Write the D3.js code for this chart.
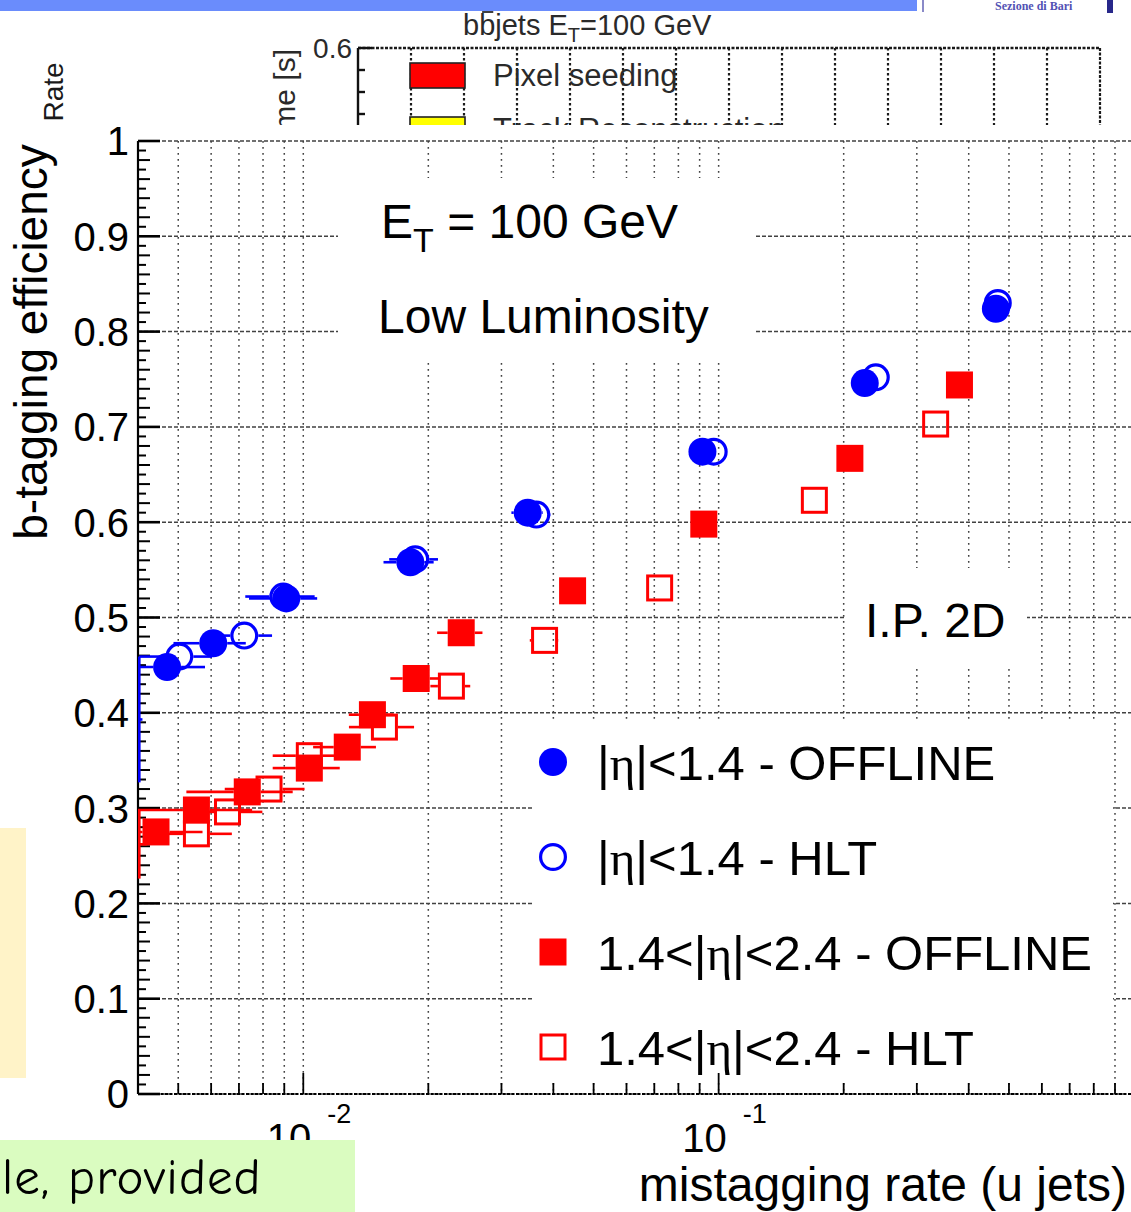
<!DOCTYPE html>
<html>
<head>
<meta charset="utf-8">
<script src="https://cdn.jsdelivr.net/npm/d3@7"></script>
<style>
  html, body { margin: 0; padding: 0; background: #fff; overflow: hidden; }
  svg { display: block; }
</style>
</head>
<body>
<svg id="chart" width="1131" height="1212"></svg>
<script>
// b-tagging efficiency versus u-jet mistagging rate (E_T = 100 GeV, low luminosity, I.P. 2D)

// ---- data -------------------------------------------------------------
const seriesLabels = [
  "|η|<1.4 - OFFLINE",
  "|η|<1.4 - HLT",
  "1.4<|η|<2.4 - OFFLINE",
  "1.4<|η|<2.4 - HLT"
];

// |eta| < 1.4, offline
const barrelOfflineX  = [0.0047, 0.00607, 0.0091, 0.0181, 0.0347, 0.0914, 0.2248, 0.465];
const barrelOfflineY  = [0.448, 0.473, 0.520, 0.558, 0.610, 0.674, 0.746, 0.824];
const barrelOfflineEx = [0.0011, 0.0012, 0.0017, 0.0025, 0.003, 0.004, 0.008, 0.015];
const barrelOfflineEy = [0.008, 0.008, 0.008, 0.007, 0.007, 0.006, 0.006, 0.005];

// |eta| < 1.4, HLT
const barrelHltX  = [0.0035, 0.00503, 0.00721, 0.00895, 0.0186, 0.0364, 0.0973, 0.239, 0.470];
const barrelHltY  = [0.393, 0.459, 0.481, 0.522, 0.561, 0.608, 0.674, 0.752, 0.830];
const barrelHltEx = [0.0006, 0.0010, 0.0012, 0.0017, 0.0025, 0.003, 0.004, 0.008, 0.015];
const barrelHltEy = [0.066, 0.008, 0.008, 0.008, 0.007, 0.007, 0.006, 0.006, 0.005];

// 1.4 < |eta| < 2.4, offline
const endcapOfflineX  = [0.00442, 0.00553, 0.00733, 0.01034, 0.01276, 0.01467, 0.0187, 0.0240, 0.0445, 0.0921, 0.207, 0.380];
const endcapOfflineY  = [0.275, 0.298, 0.317, 0.342, 0.364, 0.398, 0.436, 0.484, 0.528, 0.598, 0.667, 0.744];
const endcapOfflineEx = [0.0013, 0.002, 0.0021, 0.0019, 0.0022, 0.0018, 0.0025, 0.003, 0.003, 0.004, 0.008, 0.012];
const endcapOfflineEy = [0.009, 0.009, 0.009, 0.008, 0.008, 0.008, 0.008, 0.008, 0.007, 0.007, 0.006, 0.006];

// 1.4 < |eta| < 2.4, HLT
const endcapHltX  = [0.0036, 0.00553, 0.00657, 0.00827, 0.01034, 0.01568, 0.02273, 0.0381, 0.0721, 0.170, 0.333];
const endcapHltY  = [0.262, 0.273, 0.296, 0.320, 0.355, 0.385, 0.428, 0.476, 0.531, 0.623, 0.703];
const endcapHltEx = [0.0006, 0.0012, 0.0014, 0.0018, 0.0019, 0.0028, 0.0025, 0.003, 0.004, 0.008, 0.012];
const endcapHltEy = [0.036, 0.009, 0.009, 0.009, 0.008, 0.008, 0.008, 0.008, 0.007, 0.006, 0.006];

// axes
const xDomain = [0.004, 1];
const yDomain = [0, 1];
const yTickValues = [0, 0.1, 0.2, 0.3, 0.4, 0.5, 0.6, 0.7, 0.8, 0.9, 1];
const yTickLabels = ["0", "0.1", "0.2", "0.3", "0.4", "0.5", "0.6", "0.7", "0.8", "0.9", "1"];
const xDecadeValues = [0.01, 0.1];
const xDecadeExponents = ["-2", "-1"];
const xTitle = "mistagging rate (u jets)";
const yTitle = "b-tagging efficiency";

// ---- setup ------------------------------------------------------------
const FONT = "'Liberation Sans', Arial, Helvetica, sans-serif";
const svg = d3.select("#chart");
const plot = { left: 138, right: 1134, top: 141, bottom: 1094 };

const x = d3.scaleLog().domain(xDomain).range([plot.left, plot.right]);
const y = d3.scaleLinear().domain(yDomain).range([plot.bottom, plot.top]);

const zip = (xs, ys, exs, eys) => xs.map((v, i) => ({ x: v, y: ys[i], ex: exs[i], ey: eys[i] }));
const series = [
  { label: seriesLabels[1], color: "#0000ff", shape: "circle", filled: false, pts: zip(barrelHltX, barrelHltY, barrelHltEx, barrelHltEy) },
  { label: seriesLabels[0], color: "#0000ff", shape: "circle", filled: true,  pts: zip(barrelOfflineX, barrelOfflineY, barrelOfflineEx, barrelOfflineEy) },
  { label: seriesLabels[3], color: "#ff0000", shape: "square", filled: false, pts: zip(endcapHltX, endcapHltY, endcapHltEx, endcapHltEy) },
  { label: seriesLabels[2], color: "#ff0000", shape: "square", filled: true,  pts: zip(endcapOfflineX, endcapOfflineY, endcapOfflineEx, endcapOfflineEy) }
];

// ---- slide background (banner and the timing plot underneath) ----------
const back = svg.append("g");
back.append("rect").attr("x", 0).attr("y", 0).attr("width", 917).attr("height", 11).attr("fill", "#6a8cfc");
back.append("rect").attr("x", 922).attr("y", 0).attr("width", 2).attr("height", 12).attr("fill", "#8a8ac8");
back.append("text").attr("x", 995).attr("y", 10).attr("font-family", "'Liberation Serif', serif")
  .attr("font-weight", "bold").attr("font-size", 12).attr("fill", "#5252b4").text("Sezione di Bari");
back.append("rect").attr("x", 1107).attr("y", 0).attr("width", 6).attr("height", 13).attr("fill", "#28288a");

// timing plot frame
const tFrame = { left: 358, right: 1100, top: 48, bottom: 160 };
const tx = d3.scaleLinear().domain([0, 14]).range([tFrame.left, tFrame.right]);
back.selectAll("line.tgrid").data(d3.range(1, 14)).join("line")
  .attr("x1", d => tx(d)).attr("x2", d => tx(d))
  .attr("y1", tFrame.top).attr("y2", tFrame.bottom)
  .attr("stroke", "#1a1a1a").attr("stroke-width", 2.2).attr("stroke-dasharray", "2.5,2.5");
back.append("line").attr("x1", tFrame.left).attr("x2", tFrame.right).attr("y1", tFrame.top).attr("y2", tFrame.top)
  .attr("stroke", "#1a1a1a").attr("stroke-width", 2.4).attr("stroke-dasharray", "3,1.5");
back.append("line").attr("x1", tFrame.right).attr("x2", tFrame.right).attr("y1", tFrame.top).attr("y2", tFrame.bottom)
  .attr("stroke", "#1a1a1a").attr("stroke-width", 2.2).attr("stroke-dasharray", "3,1.5");
back.append("line").attr("x1", tFrame.left).attr("x2", tFrame.left).attr("y1", tFrame.top).attr("y2", tFrame.bottom)
  .attr("stroke", "#111").attr("stroke-width", 2.4);
back.selectAll("line.ttick").data([48, 70, 92, 114]).join("line")
  .attr("x1", tFrame.left).attr("x2", (d, i) => tFrame.left + (i === 0 ? 14 : 7))
  .attr("y1", d => d).attr("y2", d => d)
  .attr("stroke", "#111").attr("stroke-width", 2.4);
back.append("text").attr("x", 352).attr("y", 58).attr("text-anchor", "end")
  .attr("font-family", FONT).attr("font-size", 28).attr("fill", "#2a2a2a").text("0.6");
back.append("text").attr("transform", "translate(295,49) rotate(-90)").attr("text-anchor", "end")
  .attr("font-family", FONT).attr("font-size", 30).attr("fill", "#2a2a2a").text("Time [s]");

// timing plot title with b-bar
const tTitle = back.append("text").attr("x", 463).attr("y", 35)
  .attr("font-family", FONT).attr("font-size", 29).attr("fill", "#2a2a2a");
tTitle.append("tspan").text("bbjets E");
tTitle.append("tspan").attr("font-size", 20).attr("dy", 7).text("T");
tTitle.append("tspan").attr("dy", -7).text("=100 GeV");
{
  const node = tTitle.node();
  const s = node.getStartPositionOfChar(1), e = node.getEndPositionOfChar(1);
  back.append("line").attr("x1", s.x + 3).attr("x2", e.x - 2).attr("y1", 12).attr("y2", 12)
    .attr("stroke", "#2a2a2a").attr("stroke-width", 1.8);
}

// timing plot legend
back.append("rect").attr("x", 410).attr("y", 63).attr("width", 55).attr("height", 25)
  .attr("fill", "#ff0000").attr("stroke", "#222").attr("stroke-width", 1.6);
back.append("text").attr("x", 493).attr("y", 86).attr("font-family", FONT).attr("font-size", 31)
  .attr("fill", "#2a2a2a").text("Pixel seeding");
back.append("rect").attr("x", 410).attr("y", 117).attr("width", 55).attr("height", 25)
  .attr("fill", "#ffff00").attr("stroke", "#222").attr("stroke-width", 1.6);
back.append("text").attr("x", 493).attr("y", 140).attr("font-family", FONT).attr("font-size", 31)
  .attr("fill", "#2a2a2a").text("Track Reconstruction");

back.append("text").attr("transform", "translate(63,92) rotate(-90)").attr("text-anchor", "middle")
  .attr("font-family", FONT).attr("font-size", 28).attr("fill", "#1a1a1a").text("Rate");

// ---- efficiency plot ---------------------------------------------------
svg.append("rect").attr("x", 0).attr("y", 125).attr("width", 1131).attr("height", 1087).attr("fill", "#fff");

const gridColor = "#222";
const grid = svg.append("g").attr("stroke", gridColor).attr("stroke-width", 1.5).attr("opacity", 0.85);
const xMinor = x.ticks().filter(t => t > xDomain[0] * 1.0001 && t < xDomain[1] * 0.9999);
grid.selectAll("line.vx").data(xMinor).join("line")
  .attr("x1", d => x(d)).attr("x2", d => x(d)).attr("y1", plot.top).attr("y2", plot.bottom)
  .attr("stroke-dasharray", "1.8,4.2");
grid.selectAll("line.hy").data(yTickValues).join("line")
  .attr("x1", plot.left).attr("x2", plot.right).attr("y1", d => y(d)).attr("y2", d => y(d))
  .attr("stroke-dasharray", "4,2");

// text panels hide the grid behind them
const panels = svg.append("g").attr("fill", "#fff");
panels.append("rect").attr("x", 338).attr("y", 178).attr("width", 417).attr("height", 182);
panels.append("rect").attr("x", 846).attr("y", 568).attr("width", 181).attr("height", 99);
panels.append("rect").attr("x", 532).attr("y", 722).attr("width", 581).attr("height", 358);

// y axis
const axes = svg.append("g").attr("stroke", "#000");
axes.append("line").attr("x1", plot.left).attr("x2", plot.left).attr("y1", plot.top).attr("y2", plot.bottom)
  .attr("stroke-width", 2.2);
const yFine = d3.range(0, 101).map(i => i / 100);
axes.selectAll("line.yt").data(yFine).join("line")
  .attr("x1", plot.left)
  .attr("x2", (d, i) => plot.left + (i % 10 === 0 ? 22 : (i % 2 === 0 ? 12 : 8)))
  .attr("y1", d => y(d)).attr("y2", d => y(d))
  .attr("stroke-width", (d, i) => i % 10 === 0 ? 2.6 : 2);
// x axis (ticks point into the frame)
axes.selectAll("line.xt").data(x.ticks()).join("line")
  .attr("x1", d => x(d)).attr("x2", d => x(d))
  .attr("y1", plot.bottom)
  .attr("y2", d => plot.bottom - (xDecadeValues.some(v => Math.abs(v - d) < 1e-9) ? 21 : 11))
  .attr("stroke-width", 1.8);
axes.append("line").attr("x1", plot.left).attr("x2", plot.right).attr("y1", plot.bottom).attr("y2", plot.bottom)
  .attr("stroke-width", 2).attr("stroke-dasharray", "3,1.5");

// tick labels
svg.append("g").selectAll("text").data(yTickValues).join("text")
  .attr("x", 129).attr("y", d => y(d)).attr("dy", "0.36em").attr("text-anchor", "end")
  .attr("font-family", FONT).attr("font-size", 40).attr("fill", "#000")
  .text((d, i) => yTickLabels[i]);
const xLab = svg.append("g").attr("font-family", FONT).attr("fill", "#000");
xDecadeValues.forEach((v, i) => {
  xLab.append("text").attr("x", x(v) + 8).attr("y", 1152).attr("text-anchor", "end")
    .attr("font-size", 40).text("10");
  xLab.append("text").attr("x", x(v) + 24).attr("y", 1123)
    .attr("font-size", 27).text(xDecadeExponents[i]);
});

// axis titles
svg.append("text").attr("x", 1127).attr("y", 1201).attr("text-anchor", "end")
  .attr("font-family", FONT).attr("font-size", 48).attr("fill", "#000").text(xTitle);
svg.append("text").attr("transform", "translate(47,342) rotate(-90)").attr("text-anchor", "middle")
  .attr("font-family", FONT).attr("font-size", 46).attr("fill", "#000").text(yTitle);

// annotations
const et = svg.append("text").attr("x", 381).attr("y", 238).attr("font-family", FONT)
  .attr("font-size", 48).attr("fill", "#000");
et.append("tspan").text("E");
et.append("tspan").attr("font-size", 34).attr("dy", 14).text("T");
et.append("tspan").attr("dy", -14).text(" = 100 GeV");
svg.append("text").attr("x", 378).attr("y", 333).attr("font-family", FONT).attr("font-size", 48)
  .attr("fill", "#000").text("Low Luminosity");
svg.append("text").attr("x", 865).attr("y", 637).attr("font-family", FONT).attr("font-size", 48)
  .attr("fill", "#000").text("I.P. 2D");

// ---- data points -------------------------------------------------------
svg.append("clipPath").attr("id", "plotClip").append("rect")
  .attr("x", plot.left).attr("y", plot.top)
  .attr("width", plot.right - plot.left).attr("height", plot.bottom - plot.top);
const dataG = svg.append("g").attr("clip-path", "url(#plotClip)");
const R = 14, S = 27;

function drawMarker(g, cx, cy, s) {
  if (s.shape === "circle") {
    if (s.filled) g.append("circle").attr("cx", cx).attr("cy", cy).attr("r", R).attr("fill", s.color);
    else g.append("circle").attr("cx", cx).attr("cy", cy).attr("r", R - 1.6)
      .attr("fill", "none").attr("stroke", s.color).attr("stroke-width", 3.2);
  } else {
    if (s.filled) g.append("rect").attr("x", cx - S / 2).attr("y", cy - S / 2).attr("width", S).attr("height", S)
      .attr("fill", s.color);
    else g.append("rect").attr("x", cx - S / 2 + 1.5).attr("y", cy - S / 2 + 1.5)
      .attr("width", S - 3).attr("height", S - 3)
      .attr("fill", "none").attr("stroke", s.color).attr("stroke-width", 3);
  }
}

series.forEach(s => {
  const g = dataG.append("g");
  s.pts.forEach(p => {
    const px = x(p.x), py = y(p.y);
    const inside = p.x >= xDomain[0];
    const half = s.shape === "circle" ? R : S / 2;
    const gap = inside ? half : 0;
    const xl = x(p.x - p.ex), xr = x(p.x + p.ex);
    const eb = g.append("g").attr("stroke", s.color).attr("stroke-width", 2.6);
    if (xl < px - gap) eb.append("line").attr("x1", xl).attr("x2", px - gap).attr("y1", py).attr("y2", py);
    if (xr > px + gap) eb.append("line").attr("x1", px + gap).attr("x2", xr).attr("y1", py).attr("y2", py);
    const yt = y(p.y + p.ey), yb = y(p.y - p.ey);
    const vx = inside ? px : plot.left + 1.3;
    if (yt < py - gap) eb.append("line").attr("x1", vx).attr("x2", vx).attr("y1", yt).attr("y2", py - gap);
    if (yb > py + gap) eb.append("line").attr("x1", vx).attr("x2", vx).attr("y1", py + gap).attr("y2", yb);
    if (inside) drawMarker(g, px, py, s);
  });
});

// ---- legend ------------------------------------------------------------
const legendOrder = [1, 0, 3, 2];
const legend = svg.append("g");
legendOrder.forEach((si, i) => {
  const s = series[si];
  const cy = 762 + i * 95;
  drawMarker(legend, 553, cy, s);
  const t = legend.append("text").attr("x", 597).attr("y", cy + 18)
    .attr("font-family", FONT).attr("font-size", 49).attr("fill", "#000");
  s.label.split("η").forEach((part, k) => {
    if (k > 0) t.append("tspan").attr("font-family", "'Liberation Serif', 'DejaVu Serif', serif").text("η");
    if (part) t.append("tspan").text(part);
  });
});

// ---- slide boxes in front ----------------------------------------------
svg.append("rect").attr("x", 0).attr("y", 828).attr("width", 26).attr("height", 250).attr("fill", "#fff3c8");
svg.append("rect").attr("x", 0).attr("y", 1140).attr("width", 355).attr("height", 72).attr("fill", "#dafcc0");
svg.append("text").attr("x", 2).attr("y", 1194)
  .attr("font-family", "'Comic Sans MS', 'Comic Neue', Lato, sans-serif").attr("font-size", 51)
  .attr("letter-spacing", 1).attr("fill", "#000").text("le, provided");
</script>
</body>
</html>
